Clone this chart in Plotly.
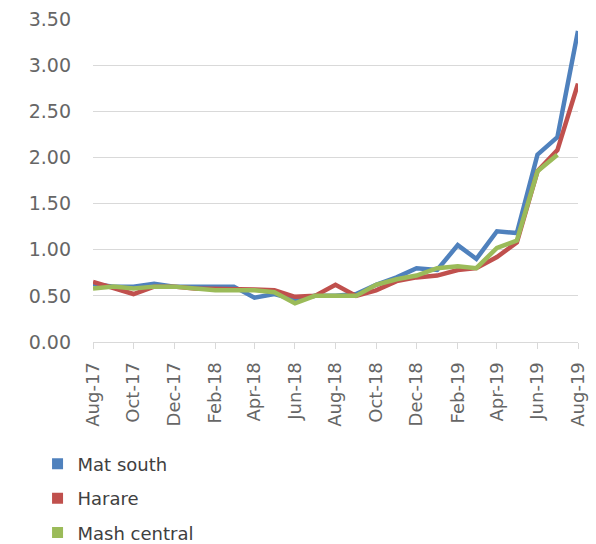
import plotly.graph_objects as go
import pandas as pd

months = pd.date_range("2017-08-01", "2019-08-01", freq="MS")

mat_south = [0.63, 0.60, 0.60, 0.63, 0.60, 0.60, 0.60, 0.60, 0.48, 0.52, 0.46, 0.50, 0.50,
             0.52, 0.62, 0.70, 0.80, 0.78, 1.05, 0.90, 1.20, 1.18, 2.03, 2.22, 3.37]
harare = [0.65, 0.58, 0.52, 0.60, 0.60, 0.58, 0.58, 0.58, 0.57, 0.56, 0.49, 0.50, 0.62,
          0.50, 0.56, 0.66, 0.70, 0.72, 0.78, 0.80, 0.92, 1.08, 1.85, 2.08, 2.80]
mash_central = [0.58, 0.60, 0.58, 0.60, 0.60, 0.58, 0.56, 0.56, 0.56, 0.54, 0.42, 0.50, 0.50,
                0.50, 0.62, 0.68, 0.72, 0.80, 0.82, 0.80, 1.02, 1.10, 1.85, 2.03, None]

series = [("Mat south", mat_south, "#4F81BD"),
          ("Harare", harare, "#C0504D"),
          ("Mash central", mash_central, "#9BBB59")]

fig = go.Figure()
for name, vals, col in series:
    fig.add_trace(go.Scatter(x=months, y=vals, mode="lines", name=name,
                             line=dict(color=col, width=4.5), showlegend=False,
                             cliponaxis=False, connectgaps=False))
for i, (name, vals, col) in enumerate(series):
    fig.add_trace(go.Scatter(x=[None], y=[None], mode="markers", name=name,
                             legendgroup=f"g{i}",
                             marker=dict(symbol="square", size=11, color=col)))

fig.update_layout(
    width=596, height=544,
    margin=dict(l=93, r=18, t=19, b=202, autoexpand=False),
    paper_bgcolor="white", plot_bgcolor="white",
    font=dict(family="DejaVu Sans", size=18, color="#666666"),
    legend=dict(xref="container", yref="container", x=0.063, y=0.181,
                xanchor="left", yanchor="top", traceorder="grouped",
                tracegroupgap=8, font=dict(size=18, color="#404040"),
                itemwidth=30),
    showlegend=True,
)
fig.update_xaxes(range=[months[0], months[-1]], tickformat="%b-%y", dtick="M2",
                 tick0=months[0], tickangle=-90, showgrid=False, automargin=False,
                 showline=True, linecolor="#d9d9d9", linewidth=1,
                 ticks="outside", ticklen=6, tickcolor="#d9d9d9",
                 ticklabelstandoff=6,
                 tickfont=dict(family="DejaVu Sans", size=18, color="#666666"))
fig.update_yaxes(range=[0, 3.5], dtick=0.5, tickformat=".2f", showgrid=True,
                 gridcolor="#d9d9d9", gridwidth=1, zeroline=False, showline=False,
                 automargin=False, ticklabelstandoff=21,
                 tickfont=dict(family="DejaVu Sans", size=19, color="#666666"))

fig.write_html("out.html", config={"displayModeBar": False},
               post_script="document.body.style.margin='0';")
